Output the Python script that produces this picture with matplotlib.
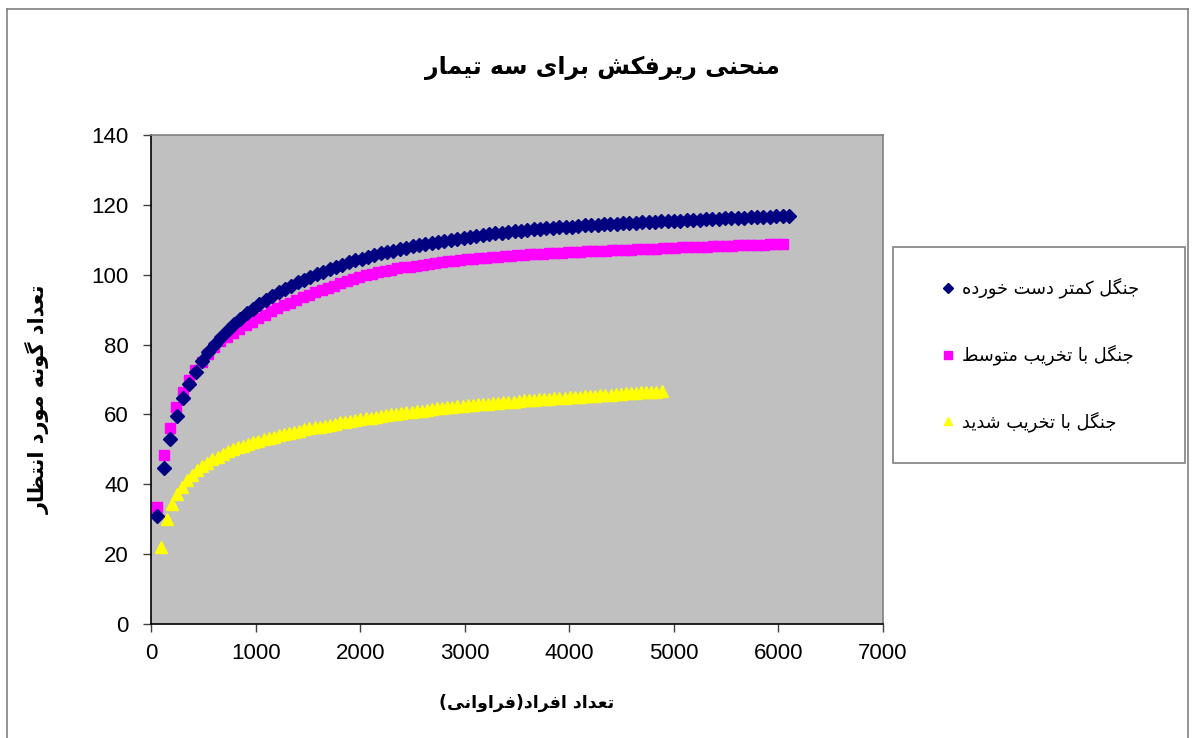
import numpy as np
import matplotlib
matplotlib.use("Agg")
import matplotlib.pyplot as plt
from matplotlib.lines import Line2D
from matplotlib.patches import Rectangle

# ---------------- data ----------------
title_text = "منحنی ریرفکش برای سه تیمار"
xlabel_text = "تعداد افراد(فراوانی)"
ylabel_text = "تعداد گونه مورد انتظار"
series_names = ["جنگل کمتر دست خورده", "جنگل با تخریب متوسط", "جنگل با تخریب شدید"]

x_ticks = [0, 1000, 2000, 3000, 4000, 5000, 6000, 7000]
y_ticks = [0, 20, 40, 60, 80, 100, 120, 140]

# sample sizes (individuals) for each curve
low_x = np.arange(1, 101) * 61.0
mid_x = np.arange(1, 101) * 60.4
high_x = 100 + np.arange(0, 99) * 48.8

low_y = [30.8, 44.7, 53.0, 59.6, 64.6, 68.7, 72.2, 75.2, 77.8, 80.1,
         82.2, 84.1, 85.8, 87.4, 88.9, 90.3, 91.6, 92.8, 93.9, 95.0,
         96.0, 96.9, 97.8, 98.6, 99.4, 100.2, 100.9, 101.6, 102.3, 102.9,
         103.5, 104.1, 104.6, 105.1, 105.6, 106.1, 106.5, 106.9, 107.3, 107.7,
         108.1, 108.5, 108.8, 109.1, 109.4, 109.7, 110.0, 110.3, 110.6, 110.9,
         111.1, 111.4, 111.6, 111.8, 112.0, 112.2, 112.4, 112.6, 112.8, 113.0,
         113.1, 113.3, 113.4, 113.6, 113.7, 113.8, 114.0, 114.1, 114.2, 114.3,
         114.4, 114.5, 114.6, 114.7, 114.8, 114.9, 115.0, 115.1, 115.2, 115.3,
         115.4, 115.5, 115.5, 115.6, 115.7, 115.8, 115.9, 115.9, 116.0, 116.1,
         116.2, 116.3, 116.3, 116.4, 116.5, 116.6, 116.6, 116.7, 116.8, 116.9]

mid_y = [33.6, 48.3, 56.2, 62.1, 66.5, 69.9, 72.7, 75.1, 77.3, 79.4,
         80.9, 82.2, 83.4, 84.5, 85.5, 86.5, 87.5, 88.5, 89.5, 90.4,
         91.2, 92.0, 92.8, 93.6, 94.3, 95.0, 95.7, 96.3, 96.9, 97.5,
         98.1, 98.7, 99.3, 99.8, 100.3, 100.7, 101.1, 101.4, 101.8, 102.1,
         102.3, 102.6, 102.9, 103.1, 103.4, 103.6, 103.8, 104.0, 104.2, 104.4,
         104.6, 104.8, 104.9, 105.1, 105.2, 105.3, 105.5, 105.6, 105.7, 105.8,
         105.9, 106.0, 106.1, 106.2, 106.3, 106.4, 106.5, 106.6, 106.7, 106.8,
         106.9, 106.9, 107.0, 107.1, 107.2, 107.2, 107.3, 107.4, 107.4, 107.5,
         107.6, 107.6, 107.7, 107.8, 107.8, 107.9, 108.0, 108.0, 108.1, 108.2,
         108.2, 108.3, 108.4, 108.4, 108.5, 108.6, 108.6, 108.7, 108.8, 108.9]

high_y = [22.1, 30.0, 34.4, 37.1, 39.3, 41.2, 42.7, 44.0, 45.2, 46.2,
          47.1, 47.9, 48.7, 49.4, 50.0, 50.6, 51.1, 51.6, 52.0, 52.4,
          52.9, 53.3, 53.6, 54.0, 54.4, 54.7, 55.0, 55.3, 55.7, 56.0,
          56.3, 56.5, 56.8, 57.1, 57.4, 57.7, 57.9, 58.2, 58.4, 58.7,
          58.9, 59.1, 59.3, 59.6, 59.8, 60.0, 60.2, 60.4, 60.6, 60.8,
          61.0, 61.1, 61.3, 61.5, 61.7, 61.8, 62.0, 62.2, 62.3, 62.5,
          62.6, 62.8, 62.9, 63.0, 63.1, 63.3, 63.4, 63.5, 63.6, 63.7,
          63.9, 64.0, 64.1, 64.2, 64.3, 64.4, 64.5, 64.6, 64.7, 64.8,
          64.9, 65.0, 65.1, 65.2, 65.3, 65.4, 65.5, 65.6, 65.7, 65.8,
          65.9, 66.0, 66.1, 66.2, 66.3, 66.3, 66.4, 66.5, 66.6]

# ---------------- Arabic/Persian shaping (presentation forms, visual order) ----------------
FORMS = {
    'ا': (0xFE8D, 0xFE8E), 'د': (0xFEA9, 0xFEAA), 'ذ': (0xFEAB, 0xFEAC),
    'ر': (0xFEAD, 0xFEAE), 'ز': (0xFEAF, 0xFEB0), 'ژ': (0xFB8A, 0xFB8B),
    'و': (0xFEED, 0xFEEE),
    'ب': (0xFE8F, 0xFE90, 0xFE91, 0xFE92), 'پ': (0xFB56, 0xFB57, 0xFB58, 0xFB59),
    'ت': (0xFE95, 0xFE96, 0xFE97, 0xFE98), 'ث': (0xFE99, 0xFE9A, 0xFE9B, 0xFE9C),
    'ج': (0xFE9D, 0xFE9E, 0xFE9F, 0xFEA0), 'چ': (0xFB7A, 0xFB7B, 0xFB7C, 0xFB7D),
    'ح': (0xFEA1, 0xFEA2, 0xFEA3, 0xFEA4), 'خ': (0xFEA5, 0xFEA6, 0xFEA7, 0xFEA8),
    'س': (0xFEB1, 0xFEB2, 0xFEB3, 0xFEB4), 'ش': (0xFEB5, 0xFEB6, 0xFEB7, 0xFEB8),
    'ص': (0xFEB9, 0xFEBA, 0xFEBB, 0xFEBC), 'ض': (0xFEBD, 0xFEBE, 0xFEBF, 0xFEC0),
    'ط': (0xFEC1, 0xFEC2, 0xFEC3, 0xFEC4), 'ظ': (0xFEC5, 0xFEC6, 0xFEC7, 0xFEC8),
    'ع': (0xFEC9, 0xFECA, 0xFECB, 0xFECC), 'غ': (0xFECD, 0xFECE, 0xFECF, 0xFED0),
    'ف': (0xFED1, 0xFED2, 0xFED3, 0xFED4), 'ق': (0xFED5, 0xFED6, 0xFED7, 0xFED8),
    'ک': (0xFB8E, 0xFB8F, 0xFB90, 0xFB91), 'گ': (0xFB92, 0xFB93, 0xFB94, 0xFB95),
    'ل': (0xFEDD, 0xFEDE, 0xFEDF, 0xFEE0), 'م': (0xFEE1, 0xFEE2, 0xFEE3, 0xFEE4),
    'ن': (0xFEE5, 0xFEE6, 0xFEE7, 0xFEE8), 'ه': (0xFEE9, 0xFEEA, 0xFEEB, 0xFEEC),
    'ی': (0xFBFC, 0xFBFD, 0xFBFE, 0xFBFF),
}


def shape(text):
    chars = list(text)
    out = []
    for i, c in enumerate(chars):
        if c not in FORMS:
            out.append(c)
            continue
        prev = chars[i - 1] if i > 0 else None
        nxt = chars[i + 1] if i + 1 < len(chars) else None
        jp = prev is not None and prev in FORMS and len(FORMS[prev]) == 4
        jn = len(FORMS[c]) == 4 and nxt is not None and nxt in FORMS
        f = FORMS[c]
        if jp and jn:
            g = f[3]
        elif jp:
            g = f[1]
        elif jn:
            g = f[2]
        else:
            g = f[0]
        out.append(chr(g))
    vis = ''.join(reversed(out))
    return vis.translate(str.maketrans('()', ')('))


# ---------------- figure ----------------
W, H = 1192, 738
fig = plt.figure(figsize=(W / 100, H / 100), dpi=100)
fig.patch.set_facecolor('white')

# outer chart border (bottom edge lies outside the picture)
bx0, bx1, by0 = 7, 1188, 9
for xs, ys in [((bx0, bx0), (by0, H + 5)), ((bx0, bx1), (by0, by0)), ((bx1, bx1), (by0, H + 5))]:
    fig.add_artist(Line2D([x / W for x in xs], [1 - y / H for y in ys],
                          transform=fig.transFigure, color='#808080', linewidth=1.2))

ax_l, ax_r, ax_t, ax_b = 151, 883, 135, 624
ax = fig.add_axes([ax_l / W, 1 - ax_b / H, (ax_r - ax_l) / W, (ax_b - ax_t) / H])
ax.set_facecolor('#C0C0C0')

ax.plot(low_x, low_y, linestyle='none', marker='D', markersize=7,
        color='#000080', markeredgecolor='#000080', zorder=3)
ax.plot(mid_x, mid_y, linestyle='none', marker='s', markersize=7.2,
        color='#FF00FF', markeredgecolor='#FF00FF', zorder=2)
ax.plot(high_x, high_y, linestyle='none', marker='^', markersize=8,
        color='#FFFF00', markeredgecolor='#FFFF00', zorder=2)

ax.set_xlim(0, 7000)
ax.set_ylim(0, 140)
ax.set_xticks(x_ticks)
ax.set_yticks(y_ticks)
tick_font = 'Liberation Sans'
ax.set_xticklabels([str(v) for v in x_ticks], fontsize=16, fontfamily=tick_font)
ax.set_yticklabels([str(v) for v in y_ticks], fontsize=16, fontfamily=tick_font)
ax.tick_params(axis='both', direction='out', length=6, width=1, color='#404040')
ax.tick_params(axis='y', pad=10)
ax.tick_params(axis='x', pad=8)

for side in ['left', 'bottom']:
    ax.spines[side].set_color('black')
    ax.spines[side].set_linewidth(1.2)
for side in ['top', 'right']:
    ax.spines[side].set_color('#808080')
    ax.spines[side].set_linewidth(1.2)

arabic_font = ['DejaVu Sans']

fig.text(602 / W, 1 - 68 / H, shape(title_text), ha='center', va='center',
         fontsize=17, fontweight='bold', family=arabic_font)
fig.text(527 / W, 1 - 703 / H, shape(xlabel_text), ha='center', va='center',
         fontsize=12.5, fontweight='bold', family=arabic_font)
fig.text(38 / W, 1 - 399 / H, shape(ylabel_text), ha='center', va='center',
         rotation=90, fontsize=15, fontweight='bold', family=arabic_font)

# legend box
lx0, ly0, lx1, ly1 = 893, 247, 1185, 463
fig.add_artist(Rectangle((lx0 / W, 1 - ly1 / H), (lx1 - lx0) / W, (ly1 - ly0) / H,
                         transform=fig.transFigure, facecolor='white',
                         edgecolor='#808080', linewidth=1.2, zorder=1))

handles = [
    Line2D([], [], linestyle='none', marker='D', markersize=5, color='#000080'),
    Line2D([], [], linestyle='none', marker='s', markersize=6, color='#FF00FF'),
    Line2D([], [], linestyle='none', marker='^', markersize=6, color='#FFFF00'),
]
leg = fig.legend(handles, [shape(s) for s in series_names],
                 loc='center left', bbox_to_anchor=(939 / W, 1 - 355 / H),
                 frameon=False, prop={'family': arabic_font, 'size': 12.8},
                 labelspacing=2.6, handlelength=1.0, handletextpad=0.3,
                 borderpad=0, borderaxespad=0)
leg.set_zorder(5)

fig.savefig('out.png', dpi=100, facecolor='white')
